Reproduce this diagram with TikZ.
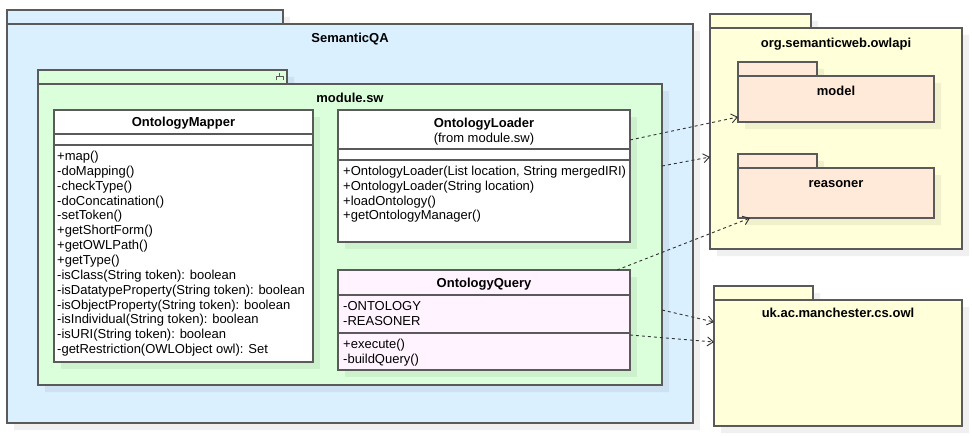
\documentclass[tikz,border=0pt]{standalone}
\usepackage{fontspec}
\setmainfont{Liberation Sans}
\usetikzlibrary{arrows.meta}
\definecolor{bordc}{HTML}{5A5A5A}
\definecolor{sqa}{HTML}{DAF0FF}
\definecolor{msw}{HTML}{DAFFDA}
\definecolor{pkgy}{HTML}{FFFFDA}
\definecolor{pkgp}{HTML}{FFE9D9}
\definecolor{qry}{HTML}{FFF3FF}
\definecolor{arrc}{HTML}{333333}
\tikzset{
  box/.style={draw=bordc, line width=1.2pt, inner sep=0pt, outer sep=0pt, anchor=north west, rectangle},
  shad/.style={fill=black, fill opacity=0.06, draw=none},
  sep/.style={draw=bordc, line width=1.2pt},
  optext/.style={anchor=base west, inner sep=0pt, font=\fontsize{13}{14.8}\selectfont},
  ttl/.style={anchor=base, inner sep=0pt, font=\fontsize{13}{14.8}\selectfont\bfseries},
  ttn/.style={anchor=base, inner sep=0pt, font=\fontsize{13}{14.8}\selectfont},
  dep/.style={draw=arrc, line width=0.9pt, dash pattern=on 3pt off 3pt,
    -{Straight Barb[length=6pt,width=9pt,line width=0.9pt]}},
}
% name, x1, y1, x2, y2, fill
\newcommand{\umlbox}[6]{%
  \fill[shad] (#2+7,#3+7) rectangle (#4+7,#5+7);
  \node[box, fill=#6, minimum width={(#4-#2)*1pt}, minimum height={(#5-#3)*1pt}] (#1) at (#2,#3) {};
}
% name, x1, tabtop, tabright, bodytop, x2, y2, fill
\newcommand{\umlpkg}[8]{%
  \fill[shad] (#2+7,#3+7) rectangle (#4+7,#5+7) (#2+7,#5+7) rectangle (#6+7,#7+7);
  \node[box, fill=#8, minimum width={(#4-#2)*1pt}, minimum height={(#5-#3)*1pt}] (#1t) at (#2,#3) {};
  \node[box, fill=#8, minimum width={(#6-#2)*1pt}, minimum height={(#7-#5)*1pt}] (#1b) at (#2,#5) {};
}
\begin{document}
\begin{tikzpicture}[x=1pt,y=-1pt]
\useasboundingbox (0,0) rectangle (972,436);
\fill[white] (0,0) rectangle (972,436);

% SemanticQA
\umlpkg{sqa}{7}{10}{283}{24}{693}{423}{sqa}
\node[ttl] (sqatitle) at (350,42.5) {SemanticQA};

% module.sw
\umlpkg{mod}{38}{70}{287}{84}{662}{385}{msw}
\node[ttl] (modtitle) at (350,102.5) {module.sw};
\draw[bordc, line width=1pt] (279.5,73) -- (279.5,76.5) (276,80.5) -- (276,76.5) -- (283,76.5) -- (283,80.5);

% OntologyMapper
\umlbox{mapper}{54}{110}{313}{362}{white}
\draw[sep] (54,134) -- (313,134) (54,145) -- (313,145);
\node[ttl] (mappertitle) at (183.5,126.5) {OntologyMapper};
\foreach \t [count=\i from 0] in {+map(), -doMapping(), -checkType(), -doConcatination(), -setToken(),
  +getShortForm(), +getOWLPath(), +getType(), {-isClass(String token): boolean},
  {-isDatatypeProperty(String token): boolean}, {-isObjectProperty(String token): boolean},
  {-isIndividual(String token): boolean}, {-isURI(String token): boolean},
  {-getRestriction(OWLObject owl): Set}}
  \node[optext] (mop\i) at (57,{160.5+14.85*\i}) {\t};

% OntologyLoader
\umlbox{loader}{338}{110}{630}{242}{white}
\draw[sep] (338,149) -- (630,149) (338,160) -- (630,160);
\node[ttl] (loadertitle) at (484,127.5) {OntologyLoader};
\node[ttn] (loaderfrom) at (484,142.5) {(from module.sw)};
\foreach \t [count=\i from 0] in {{+OntologyLoader(List location, String mergedIRI)},
  +OntologyLoader(String location), +loadOntology(), +getOntologyManager()}
  \node[optext] (lop\i) at (343,{175.5+14.8*\i}) {\t};

% OntologyQuery
\umlbox{query}{338}{270}{630}{370}{qry}
\draw[sep] (338,295) -- (630,295) (338,333) -- (630,333);
\node[ttl] (querytitle) at (484,287.5) {OntologyQuery};
\node[optext] (qa0) at (343,310.5) {-ONTOLOGY};
\node[optext] (qa1) at (343,325.5) {-REASONER};
\node[optext] (qo0) at (343,348.5) {+execute()};
\node[optext] (qo1) at (343,363.5) {-buildQuery()};

% org.semanticweb.owlapi
\umlpkg{owl}{710}{14}{811}{28}{962}{249}{pkgy}
\node[ttl] (owltitle) at (836,47.5) {org.semanticweb.owlapi};
\umlpkg{model}{738}{62}{817}{76}{934}{122}{pkgp}
\node[ttl] (modeltitle) at (836,95.5) {model};
\umlpkg{reas}{738}{154}{817}{168}{934}{218}{pkgp}
\node[ttl] (reastitle) at (836,187.5) {reasoner};

% uk.ac.manchester.cs.owl
\umlpkg{uk}{714}{286}{813}{300}{962}{426}{pkgy}
\node[ttl] (uktitle) at (838,317.5) {uk.ac.manchester.cs.owl};

% dependencies
\draw[dep] ([yshift=-30pt]loader.north east) -- ([yshift=5pt]modelb.south west);
\draw[dep] ([yshift=-82pt]modb.north east) -- ([yshift=-129pt]owlb.north west);
\draw[dep] ([xshift=-13pt]query.north east) -- ([xshift=12pt]reasb.south west);
\draw[dep] ([yshift=-226pt]modb.north east) -- ([yshift=-22pt]ukb.north west);
\draw[dep] ([yshift=-65pt]query.north east) -- ([yshift=-42pt]ukb.north west);
\end{tikzpicture}
\end{document}
